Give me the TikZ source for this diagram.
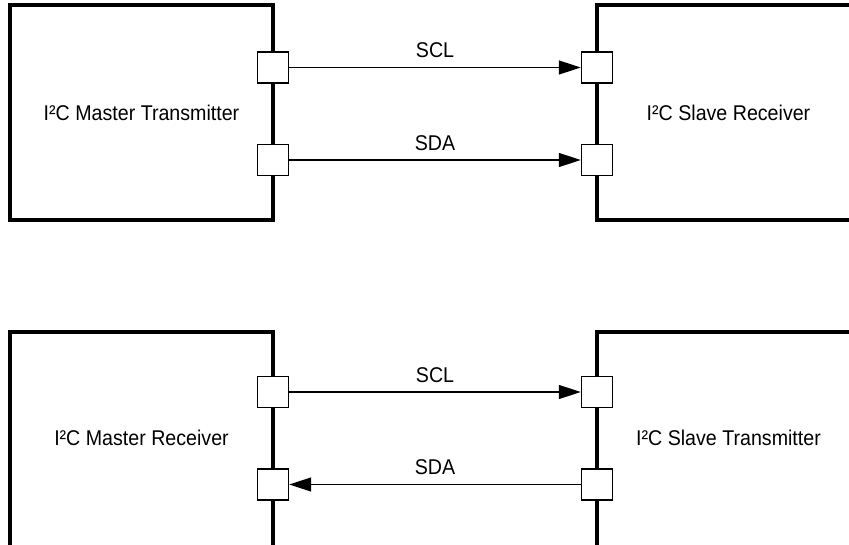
\documentclass[tikz,border=0pt]{standalone}
\usepackage{fontspec}
\setmainfont{Liberation Sans}[FakeStretch=0.92]
\usetikzlibrary{arrows.meta, positioning}

\tikzset{
  unit/.style={draw, line width=3pt, minimum width=197.25pt, minimum height=161.25pt, inner sep=0pt},
  tallunit/.style={unit, minimum height=172.5pt, anchor=north},
  unitname/.style={font=\fontsize{16}{19}\selectfont, inner sep=0pt},
  port/.style={draw, fill=white, line width=1.1pt, minimum width=23.25pt, minimum height=23pt, inner sep=0pt},
  sig/.style={line width=1.1pt, -{Triangle[length=16.5pt, width=10.5pt]}},
  signame/.style={font=\fontsize{16}{19}\selectfont, inner sep=0pt, above=6.75pt}
}

\begin{document}
\begin{tikzpicture}[x=0.75pt, y=-0.75pt]
    % page 849 x 545 px
    \clip (0,0) rectangle (849,545);
    % upper pair: master writes, slave reads
    \node[unit] (mt) at (141.5,112.5) {};
    \node[unitname] (mttext) at (mt.center) {I²C Master Transmitter};
    \node[unit] (sr) at (728.5,112.5) {};
    \node[unitname] (srtext) at (sr.center) {I²C Slave Receiver};
    \node[port] (mtscl) at (273,67.5) {};
    \node[port] (mtsda) at (273,160) {};
    \node[port] (srscl) at (597,67.5) {};
    \node[port] (srsda) at (597,160) {};
    \draw[sig] (mtscl) -- (srscl) node[midway, signame] {SCL};
    \draw[sig] (mtsda) -- (srsda) node[midway, signame] {SDA};
    % lower pair: master reads, slave writes (boxes run off the page)
    \node[tallunit] (mr) at (141.5,330) {};
    \node[unitname] (mrtext) at (141.5,437.5) {I²C Master Receiver};
    \node[tallunit] (st) at (728.5,330) {};
    \node[unitname] (sttext) at (728.5,437.5) {I²C Slave Transmitter};
    \node[port] (mrscl) at (273,392) {};
    \node[port] (mrsda) at (273,484.5) {};
    \node[port] (stscl) at (597,392) {};
    \node[port] (stsda) at (597,484.5) {};
    \draw[sig] (mrscl) -- (stscl) node[midway, signame] {SCL};
    \draw[sig] (stsda) -- (mrsda) node[midway, signame] {SDA};
\end{tikzpicture}
\end{document}
